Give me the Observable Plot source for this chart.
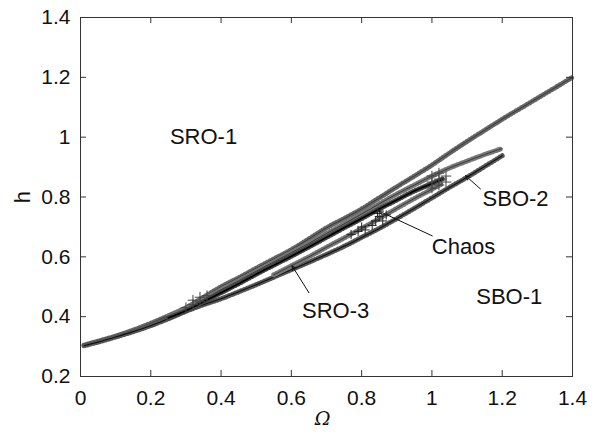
<!DOCTYPE html>
<html><head><meta charset="utf-8">
<script src="https://cdn.jsdelivr.net/npm/d3@7"></script>
<script src="https://cdn.jsdelivr.net/npm/@observablehq/plot@0.6"></script>
<style>body{margin:0;background:#fff;} svg{display:block;}</style>
</head><body><div id="chart"></div>
<script>
// ---- data ----
const topX = [0.01,0.05,0.1,0.15,0.2,0.25,0.3,0.35,0.4,0.45,0.5,0.55,0.6,0.65,0.7,0.75,0.8,0.85,0.9,0.95,1.0,1.05,1.1,1.15,1.2,1.25,1.3,1.35,1.4];
const topY = [0.305,0.318,0.335,0.355,0.378,0.403,0.43,0.465,0.5,0.53,0.562,0.593,0.624,0.66,0.697,0.728,0.76,0.797,0.834,0.87,0.907,0.947,0.986,1.023,1.06,1.095,1.13,1.165,1.2];
const bottomX = [0.01,0.05,0.1,0.15,0.2,0.25,0.3,0.35,0.4,0.45,0.5,0.55,0.6,0.65,0.7,0.75,0.8,0.85,0.9,0.95,1.0,1.05,1.1,1.15,1.2];
const bottomY = [0.303,0.315,0.332,0.35,0.37,0.393,0.418,0.44,0.46,0.483,0.507,0.532,0.557,0.582,0.608,0.635,0.665,0.695,0.728,0.762,0.797,0.832,0.866,0.902,0.938];
const sbo2X = [0.25,0.3,0.35,0.4,0.45,0.5,0.55,0.6,0.65,0.7,0.75,0.8,0.85,0.9,0.95,1.0,1.05,1.1,1.15,1.2];
const sbo2Y = [0.4,0.425,0.457,0.49,0.52,0.552,0.583,0.614,0.645,0.678,0.71,0.743,0.777,0.81,0.84,0.87,0.897,0.92,0.942,0.962];
const sro3UpX = [0.25,0.3,0.35,0.4,0.45,0.5,0.55,0.6,0.65,0.7,0.75,0.8,0.85,0.9,0.95,1.0,1.03];
const sro3UpY = [0.396,0.42,0.45,0.48,0.51,0.542,0.572,0.602,0.633,0.665,0.697,0.728,0.76,0.79,0.82,0.845,0.86];
const sro3LoX = [0.55,0.6,0.65,0.7,0.75,0.8,0.85,0.9,0.95,1.0,1.03];
const sro3LoY = [0.54,0.57,0.6,0.632,0.663,0.695,0.728,0.762,0.795,0.826,0.845];
const chaosX = [0.77,0.79,0.8,0.81,0.83,0.84,0.85,0.86,0.87,0.845];
const chaosY = [0.675,0.685,0.7,0.69,0.705,0.72,0.735,0.72,0.74,0.745];
const gridX = [1.0,1.0,1.0,1.02,1.02,1.02,1.04,1.04,0.3,0.32,0.34,0.32,0.34,0.36];
const gridY = [0.83,0.85,0.87,0.84,0.86,0.88,0.85,0.87,0.43,0.44,0.45,0.455,0.465,0.47];

const labelText = ["SRO-1","SBO-2","Chaos","SBO-1","SRO-3"];
const labelX = [0.35,1.238,1.09,1.22,0.726];
const labelY = [1.0,0.795,0.632,0.467,0.418];

const arrowFromX = [1.138,1.001,0.65];
const arrowFromY = [0.827,0.67,0.48];
const arrowToX = [1.096,0.849,0.602];
const arrowToY = [0.871,0.753,0.57];

const xTicks = [0,0.2,0.4,0.6,0.8,1.0,1.2,1.4];
const yTicks = [0.2,0.4,0.6,0.8,1.0,1.2,1.4];
const xTitle = "Ω";
const yTitle = "h";

// ---- build tables ----
const rows = (xs, ys) => xs.map((x, i) => ({x, y: ys[i]}));
const curves = [
  {data: rows(topX, topY), hatch: "#666", core: "#333", w: 0.9},
  {data: rows(bottomX, bottomY), hatch: "#555", core: "#111", w: 1.1},
  {data: rows(sbo2X, sbo2Y), hatch: "#777", core: "#333", w: 0.9},
  {data: rows(sro3UpX, sro3UpY), hatch: "#444", core: "#000", w: 1.6},
  {data: rows(sro3LoX, sro3LoY), hatch: "#777", core: "#333", w: 0.9}
];
const labels = labelText.map((t, i) => ({t, x: labelX[i], y: labelY[i]}));
const arrows = arrowFromX.map((x, i) => ({x1: x, y1: arrowFromY[i], x2: arrowToX[i], y2: arrowToY[i]}));
const fmt = d => String(+d.toFixed(1));

const W = 609, H = 432, mT = 17, mB = 56, mL = 80, mR = 37;
const frameH = H - mT - mB, frameW = W - mL - mR, tk = 6;
const FS = 22;

const marks = [];
for (const c of curves) {
  marks.push(Plot.line(c.data, {x: "x", y: "y", curve: "catmull-rom", stroke: c.hatch, strokeWidth: 5, strokeDasharray: "1,2.2"}));
  marks.push(Plot.line(c.data, {x: "x", y: "y", curve: "catmull-rom", stroke: c.core, strokeWidth: c.w}));
}
marks.push(Plot.dot(rows(chaosX, chaosY), {x: "x", y: "y", symbol: "plus", r: 3, stroke: "#222", strokeWidth: 1}));
marks.push(Plot.dot(rows(gridX, gridY), {x: "x", y: "y", symbol: "plus", r: 3.5, stroke: "#444", strokeWidth: 1}));

const svg = Plot.plot({
  width: W, height: H,
  marginTop: mT, marginBottom: mB, marginLeft: mL, marginRight: mR,
  style: {fontFamily: "'Liberation Sans', Arial, sans-serif", fontSize: FS + "px", color: "#111", background: "#fff"},
  x: {domain: [0, 1.4], axis: null},
  y: {domain: [0.2, 1.4], axis: null},
  marks: [
    ...marks,
    Plot.arrow(arrows, {x1: "x1", y1: "y1", x2: "x2", y2: "y2", stroke: "#111", strokeWidth: 1, headLength: 7, headAngle: 50}),
    Plot.text(labels, {x: "x", y: "y", text: "t", fontSize: FS, fill: "#111"}),
    Plot.frame({stroke: "#333", strokeWidth: 1}),
    Plot.tickX(xTicks, {x: d => d, insetTop: frameH - tk, stroke: "#333"}),
    Plot.tickX(xTicks, {x: d => d, insetBottom: frameH - tk, stroke: "#333"}),
    Plot.tickY(yTicks, {y: d => d, insetRight: frameW - tk, stroke: "#333"}),
    Plot.tickY(yTicks, {y: d => d, insetLeft: frameW - tk, stroke: "#333"}),
    Plot.text(xTicks, {x: d => d, text: fmt, frameAnchor: "bottom", lineAnchor: "middle", dy: 22, fontSize: 21, fill: "#111"}),
    Plot.text(yTicks, {y: d => d, text: fmt, frameAnchor: "left", textAnchor: "end", lineAnchor: "middle", dx: -10, fontSize: 21, fill: "#111"}),
    Plot.text([xTitle], {text: d => d, frameAnchor: "bottom", lineAnchor: "middle", textAnchor: "middle", dx: -4, dy: 42, fontSize: 19, fontStyle: "italic", fontFamily: "'DejaVu Serif', 'Liberation Serif', serif", fill: "#111"}),
    Plot.text([yTitle], {text: d => d, frameAnchor: "left", lineAnchor: "middle", textAnchor: "middle", dx: -58, rotate: -90, fontSize: FS, fill: "#111"})
  ]
});
document.getElementById("chart").appendChild(svg);
</script>
</body></html>
